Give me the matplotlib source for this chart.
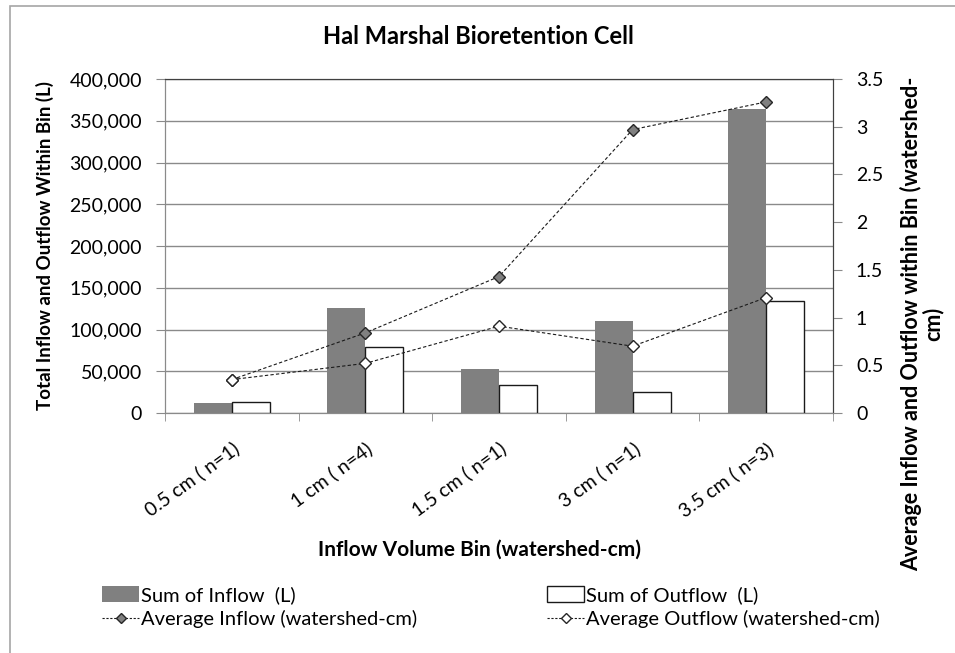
import matplotlib
matplotlib.use('Agg')
import matplotlib.pyplot as plt
from matplotlib.patches import Patch, Rectangle
from matplotlib.lines import Line2D
from matplotlib.ticker import FuncFormatter, MultipleLocator
import numpy as np

categories = ['0.5 cm ( n=1)', '1 cm ( n=4)', '1.5 cm ( n=1)', '3 cm ( n=1)', '3.5 cm ( n=3)']
sum_inflow = [12000, 126000, 53000, 110000, 364000]
sum_outflow = [13000, 79000, 33000, 25000, 134000]
avg_inflow = [0.35, 0.84, 1.43, 2.97, 3.26]
avg_outflow = [0.35, 0.52, 0.91, 0.70, 1.21]

plt.rcParams['font.family'] = ['Lato', 'DejaVu Sans']

W, H = 955, 653
fig = plt.figure(figsize=(W / 100, H / 100), dpi=100)
ax = fig.add_axes([165 / W, 1 - 413 / H, (833 - 165) / W, (413 - 79) / H])
ax2 = ax.twinx()

# chart border (partly cropped in the reference)
fig.patches.append(Rectangle((9.5 / W, -0.1), 1.2, 1 - 6.5 / H + 0.1, transform=fig.transFigure,
                             fill=False, edgecolor='#a6a6a6', linewidth=1.2))

x = np.arange(len(categories))
bw = 0.285
ax.bar(x - bw / 2, sum_inflow, bw, color='#808080', edgecolor='none', zorder=3)
ax.bar(x + bw / 2, sum_outflow, bw, color='white', edgecolor='#1a1a1a', linewidth=1.0, zorder=3)

ax.set_xlim(-0.5, len(categories) - 0.5)
ax.set_ylim(0, 400000)
ax.yaxis.set_major_locator(MultipleLocator(50000))
ax.yaxis.set_major_formatter(FuncFormatter(lambda v, p: '{:,.0f}'.format(v)))
ax.grid(axis='y', color='#8a8a8a', linewidth=1.0, zorder=0)
ax.set_axisbelow(True)

ax.set_xticks(x)
ax.set_xticklabels(categories, rotation=36, ha='right', va='top', rotation_mode='anchor', fontsize=14)
ax.set_xticks(np.arange(-0.5, len(categories)), minor=True)
ax.tick_params(axis='x', which='major', length=0, pad=19)
ax.tick_params(axis='x', which='minor', length=6, color='#8a8a8a', direction='out')
ax.tick_params(axis='y', length=6.5, color='#8a8a8a', labelsize=14, pad=10)

ax2.plot(x, avg_inflow, linestyle='--', dashes=(3, 2), color='#1a1a1a', linewidth=0.8,
         marker='D', markersize=6, markerfacecolor='#808080', markeredgecolor='#262626')
ax2.plot(x, avg_outflow, linestyle='--', dashes=(3, 2), color='#1a1a1a', linewidth=0.8,
         marker='D', markersize=6, markerfacecolor='white', markeredgecolor='#262626')
ax2.set_ylim(0, 3.5)
ax2.yaxis.set_major_locator(MultipleLocator(0.5))
ax2.yaxis.set_major_formatter(FuncFormatter(lambda v, p: '{:g}'.format(v)))
ax2.tick_params(axis='y', length=6.5, color='#8a8a8a', labelsize=14, pad=10)

for a in (ax, ax2):
    a.spines['left'].set_color('#8a8a8a')
    a.spines['bottom'].set_color('#8a8a8a')
    a.spines['top'].set_color('#404040')
    a.spines['right'].set_color('#404040')

fig.text(478 / W, 1 - 36 / H, 'Hal Marshal Bioretention Cell', ha='center', va='center',
         fontsize=17, fontweight='bold')
fig.text(45 / W, 1 - 245 / H, 'Total Inflow and Outflow Within Bin (L)', ha='center', va='center',
         rotation=90, fontsize=13.5, fontweight='bold')
fig.text(922 / W, 1 - 324 / H, 'Average Inflow and Outflow within Bin (watershed-\ncm)',
         ha='center', va='center', rotation=90, fontsize=15.5, fontweight='bold', linespacing=1.0)
fig.text(479 / W, 1 - 550 / H, 'Inflow Volume Bin (watershed-cm)', ha='center', va='center',
         fontsize=15, fontweight='bold')

inflow_handles = [
    Patch(facecolor='#808080', edgecolor='none'),
    Line2D([], [], linestyle='--', dashes=(2, 1.5), color='#1a1a1a', linewidth=0.8, marker='D',
           markersize=5, markerfacecolor='#808080', markeredgecolor='#262626'),
]
outflow_handles = [
    Patch(facecolor='white', edgecolor='#1a1a1a', linewidth=1.0),
    Line2D([], [], linestyle='--', dashes=(2, 1.5), color='#1a1a1a', linewidth=0.8, marker='D',
           markersize=5, markerfacecolor='white', markeredgecolor='#262626'),
]
leg_kw = dict(loc='upper left', frameon=False, fontsize=14.5, handlelength=1.85, handleheight=0.8,
              handletextpad=0.1, labelspacing=0.3, borderpad=0, borderaxespad=0)
fig.legend(inflow_handles, ['Sum of Inflow  (L)', 'Average Inflow (watershed-cm)'],
           bbox_to_anchor=(102 / W, 1 - 586 / H), **leg_kw)
fig.legend(outflow_handles, ['Sum of Outflow  (L)', 'Average Outflow (watershed-cm)'],
           bbox_to_anchor=(547 / W, 1 - 586 / H), **leg_kw)

fig.savefig('out.png', dpi=100)
